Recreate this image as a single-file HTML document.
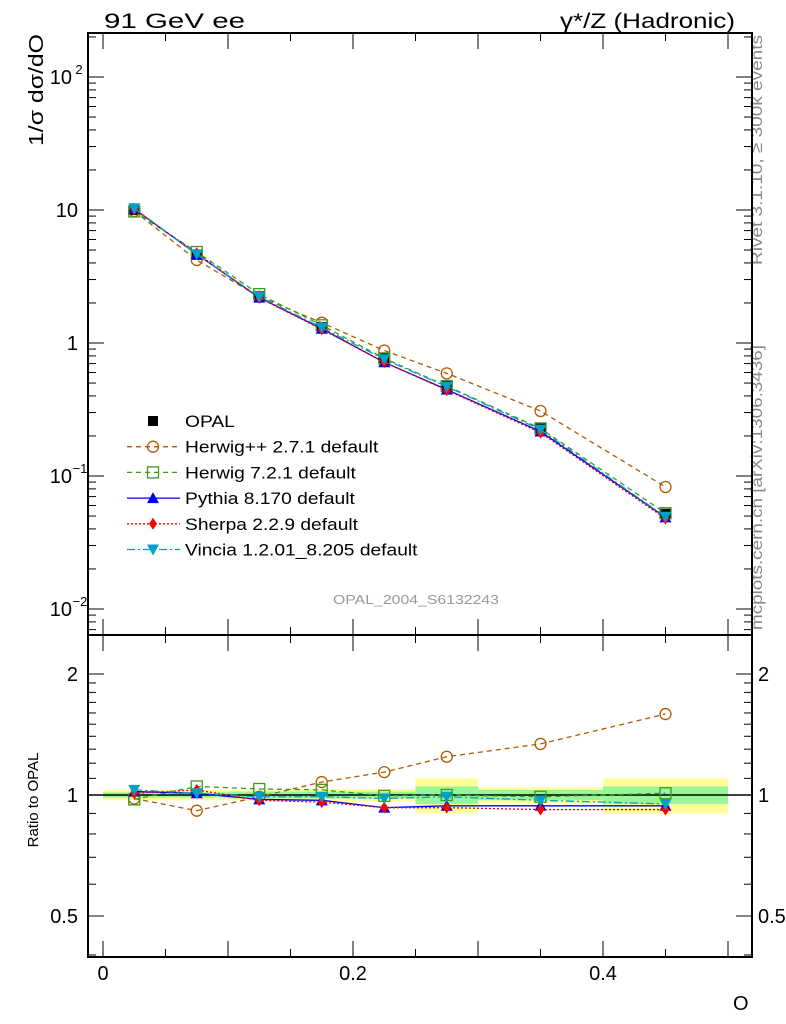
<!DOCTYPE html>
<html><head><meta charset="utf-8"><style>
body{margin:0;background:#fff}
svg{display:block;font-family:"Liberation Sans",sans-serif}
</style></head><body>
<svg id="chart" width="786" height="1024" viewBox="0 0 786 1024">
<text x="104" y="28" font-size="21" textLength="141" lengthAdjust="spacingAndGlyphs">91 GeV ee</text>
<text x="560" y="28" font-size="21" textLength="175" lengthAdjust="spacingAndGlyphs">γ*/Z (Hadronic)</text>
<text transform="translate(43,146) rotate(-90)" font-size="20" textLength="112" lengthAdjust="spacingAndGlyphs">1/σ dσ/dO</text>
<text transform="translate(38,800) rotate(-90)" font-size="15" text-anchor="middle">Ratio to OPAL</text>
<text x="733" y="1010" font-size="20">O</text>
<text transform="translate(762,265) rotate(-90)" font-size="16" fill="#888" textLength="230" lengthAdjust="spacingAndGlyphs">Rivet 3.1.10, ≥ 300k events</text>
<text transform="translate(762,630) rotate(-90)" font-size="16" fill="#888" textLength="285" lengthAdjust="spacingAndGlyphs">mcplots.cern.ch [arXiv:1306.3436]</text>
<text x="333" y="604" font-size="13" fill="#999" textLength="166" lengthAdjust="spacingAndGlyphs">OPAL_2004_S6132243</text>
<g id="bands"></g><g id="curves"></g><g id="axes"></g><g id="legend"></g>
</svg>
<script>
const binEdges=[0,0.05,0.1,0.15,0.2,0.25,0.3,0.4,0.5];
const xCenters=[0.025,0.075,0.125,0.175,0.225,0.275,0.35,0.45];
const opal=[10,4.6,2.25,1.32,0.77,0.475,0.23,0.052];
const bandTotal=[0.03,0.03,0.03,0.035,0.035,0.1,0.045,0.1];
const bandStat=[0.015,0.015,0.02,0.02,0.02,0.05,0.03,0.05];
const herwigpp=[0.98,0.914,0.99,1.077,1.14,1.245,1.34,1.59];
const herwig7=[0.975,1.05,1.035,1.03,0.995,1.0,0.99,1.01];
const pythia=[1.02,1.01,0.975,0.97,0.93,0.94,0.94,0.94];
const sherpa=[1.01,1.03,0.97,0.96,0.93,0.93,0.92,0.92];
const vincia=[1.03,1.01,0.99,0.99,0.98,0.99,0.97,0.95];
const xTicks=[0,0.2,0.4];
const NS="http://www.w3.org/2000/svg";
const L=88,R=752,T=33,MB=635,B=957;
const X=v=>103+v*1250;
const Y=v=>210-(Math.log10(v)-1)*133;
const RY=v=>795-Math.log10(v)*402;
function mk(tag,attrs,parent){const e=document.createElementNS(NS,tag);for(const k in attrs)e.setAttribute(k,attrs[k]);parent.appendChild(e);return e;}
const bands=document.getElementById('bands'),curves=document.getElementById('curves'),axes=document.getElementById('axes'),leg=document.getElementById('legend');
for(let i=0;i<xCenters.length;i++){
 const x0=X(binEdges[i]),x1=X(binEdges[i+1]);
 const y=mk('rect',{x:x0,y:RY(1+bandTotal[i]),width:x1-x0,height:RY(1-bandTotal[i])-RY(1+bandTotal[i]),fill:'#ffff99'},bands);
 
 
 const g=mk('rect',{x:x0,y:RY(1+bandStat[i]),width:x1-x0,height:RY(1-bandStat[i])-RY(1+bandStat[i]),fill:'#99f599'},bands);
 
 
}
const ref=mk('line',{x1:L,x2:R,y1:RY(1),y2:RY(1),stroke:'#000','stroke-width':1.5},bands);


function marker(type,color,x,y,p){
 let e;
 if(type==='circle')e=mk('circle',{cx:x,cy:y,r:5.5,fill:'none',stroke:color,'stroke-width':1.3},p);
 else if(type==='square')e=mk('rect',{x:x-5.5,y:y-5.5,width:11,height:11,fill:'none',stroke:color,'stroke-width':1.3},p);
 else if(type==='fsquare')e=mk('rect',{x:x-5,y:y-5,width:10,height:10,fill:color},p);
 else if(type==='tri')e=mk('polygon',{points:`${x},${y-6} ${x-6},${y+5} ${x+6},${y+5}`,fill:color},p);
 else if(type==='diamond')e=mk('polygon',{points:`${x},${y-6} ${x-4},${y} ${x},${y+6} ${x+4},${y}`,fill:color},p);
 else e=mk('polygon',{points:`${x-6},${y-5} ${x+6},${y-5} ${x},${y+6}`,fill:color},p);
 return e;
}
xCenters.forEach((x,i)=>{
 const m=marker('fsquare','#000',X(x),Y(opal[i]),curves);
 
 
});
const series=[
 {n:'herwigpp',label:'Herwig++ 2.7.1 default',r:herwigpp,c:'#b35900',d:'5,4',m:'circle'},
 {n:'herwig7',label:'Herwig 7.2.1 default',r:herwig7,c:'#3c9a1c',d:'5,4',m:'square'},
 {n:'pythia',label:'Pythia 8.170 default',r:pythia,c:'#0000ee',d:'',m:'tri'},
 {n:'sherpa',label:'Sherpa 2.2.9 default',r:sherpa,c:'#ff0000',d:'2,2',m:'diamond'},
 {n:'vincia',label:'Vincia 1.2.01_8.205 default',r:vincia,c:'#00a0c8',d:'8,3,2,3',m:'itri'}
];
for(const s of series){
 const mainPts=xCenters.map((x,i)=>X(x)+','+Y(opal[i]*s.r[i])).join(' ');
 const ratPts=xCenters.map((x,i)=>X(x)+','+RY(s.r[i])).join(' ');
 const l1=mk('polyline',{points:mainPts,fill:'none',stroke:s.c,'stroke-width':1.3,'stroke-dasharray':s.d},curves);
 
 
 const l2=mk('polyline',{points:ratPts,fill:'none',stroke:s.c,'stroke-width':1.3,'stroke-dasharray':s.d},curves);
 
 
 xCenters.forEach((x,i)=>{
  const a=marker(s.m,s.c,X(x),Y(opal[i]*s.r[i]),curves);
  
  
  const b=marker(s.m,s.c,X(x),RY(s.r[i]),curves);
  
  
 });
}
for(const [t,b] of [[T,MB],[MB,B]]){
 const f=mk('rect',{x:L,y:t,width:R-L,height:b-t,fill:'none',stroke:'#000','stroke-width':2},axes);
 
 
}
for(let v=0;v<=0.5001;v+=0.05){
 const big=Math.abs(v*10-Math.round(v*10))<1e-6;
 const len=big?16:8;
 for(const [t,b] of [[T,MB],[MB,B]]){
  mk('line',{x1:X(v),x2:X(v),y1:b,y2:b-len,stroke:'#000'},axes);
  mk('line',{x1:X(v),x2:X(v),y1:t,y2:t+len,stroke:'#000'},axes);
 }
}
xTicks.forEach(v=>{
 const t=mk('text',{x:X(v),y:980,'font-size':20,'text-anchor':'middle'},axes);
 t.textContent=v===0?'0':v.toFixed(1);
 
 
});
for(let d=-3;d<=2;d++){
 for(let k=1;k<10;k++){
  const v=k*Math.pow(10,d),y=Y(v);
  if(y<T||y>MB)continue;
  const len=k===1?16:8;
  mk('line',{x1:L,x2:L+len,y1:y,y2:y,stroke:'#000'},axes);
  mk('line',{x1:R,x2:R-len,y1:y,y2:y,stroke:'#000'},axes);
 }
}
const yLab=[[100,'10','2'],[10,'10',''],[1,'1',''],[0.1,'10','−1'],[0.01,'10','−2']];
yLab.forEach(([v,b,e])=>{
 const t=mk('text',{x:e?72:78,y:Y(v)+7,'font-size':20,'text-anchor':'end'},axes);
 t.textContent=b;
 
 
 if(e){const s=mk('text',{x:e.length>1?80:79,y:Y(v)-3,'font-size':13,'text-anchor':'middle'},axes);s.textContent=e;}
});
[0.4,0.5,0.6,0.7,0.8,0.9,1,1.1,1.2,1.3,1.4,1.5,1.6,1.7,1.8,1.9,2].forEach(v=>{
 const big=[0.5,1,2].includes(v),len=big?16:8,y=RY(v);
 mk('line',{x1:L,x2:L+len,y1:y,y2:y,stroke:'#000'},axes);
 mk('line',{x1:R,x2:R-len,y1:y,y2:y,stroke:'#000'},axes);
});
[[2,'2'],[1,'1'],[0.5,'0.5']].forEach(([v,s])=>{
 const a=mk('text',{x:78,y:RY(v)+7,'font-size':20,'text-anchor':'end'},axes);a.textContent=s;
 
 
 const b=mk('text',{x:758,y:RY(v)+7,'font-size':20},axes);b.textContent=s;
 
 
});
const legRows=[{label:'OPAL',c:'#000',m:'fsquare',d:null}].concat(series.map(s=>({label:s.label,c:s.c,m:s.m,d:s.d})));
legRows.forEach((r,i)=>{
 const y=421+i*25.7;
 const g=mk('g',{},leg);
 
 
 if(r.d!==null)mk('line',{x1:127,x2:180,y1:y,y2:y,stroke:r.c,'stroke-width':1.3,'stroke-dasharray':r.d},g);
 marker(r.m,r.c,153,y,g);
 const t=mk('text',{x:185,y:y+6,'font-size':17},g);t.textContent=r.label;
 const w=t.getComputedTextLength();
 t.setAttribute('textLength',w*1.13);
 t.setAttribute('lengthAdjust','spacingAndGlyphs');
});
</script>
</body></html>
